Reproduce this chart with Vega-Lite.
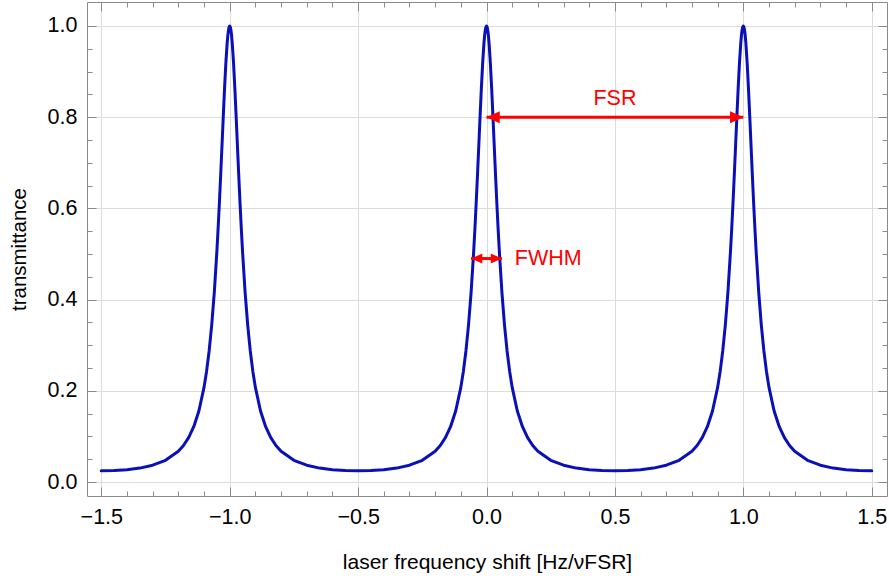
{
  "$schema": "https://vega.github.io/schema/vega-lite/v6.json",
  "width": 800,
  "height": 494,
  "autosize": {"type": "none"},
  "padding": {"left": 87, "top": 2, "right": 2, "bottom": 80},
  "background": "white",
  "config": {
    "view": {"stroke": null},
    "font": "Liberation Sans",
    "axis": {
      "labelFont": "Liberation Sans",
      "titleFont": "Liberation Sans",
      "labelFontSize": 21.5,
      "titleFontSize": 21,
      "titleFontWeight": "normal",
      "labelColor": "black",
      "titleColor": "black",
      "domainColor": "#8a8a8a",
      "tickColor": "#8a8a8a",
      "gridColor": "#dcdcdc",
      "labelOverlap": false,
      "labelFlush": false,
      "labelBound": false
    }
  },
  "datasets": {
    "curve": [
      {"x": -1.5, "y": 0.0244}, {"x": -1.45, "y": 0.025}, {"x": -1.4, "y": 0.0269}, {"x": -1.35, "y": 0.0305}, {"x": -1.3, "y": 0.0368}, {"x": -1.25, "y": 0.0476}, {"x": -1.2, "y": 0.0675}, {"x": -1.18, "y": 0.0801}, {"x": -1.16, "y": 0.0972}, {"x": -1.14, "y": 0.1212}, {"x": -1.12, "y": 0.1557}, {"x": -1.1, "y": 0.2075}, {"x": -1.09, "y": 0.2431}, {"x": -1.08, "y": 0.2879}, {"x": -1.07, "y": 0.3444}, {"x": -1.06, "y": 0.4159}, {"x": -1.05, "y": 0.5053}, {"x": -1.045, "y": 0.5574}, {"x": -1.04, "y": 0.6141}, {"x": -1.035, "y": 0.6749}, {"x": -1.03, "y": 0.7384}, {"x": -1.025, "y": 0.8024}, {"x": -1.02, "y": 0.8638}, {"x": -1.015, "y": 0.9185}, {"x": -1.01, "y": 0.962}, {"x": -1.0075, "y": 0.9783}, {"x": -1.005, "y": 0.9902}, {"x": -1.0025, "y": 0.9975}, {"x": -1, "y": 1},
      {"x": -0.9975, "y": 0.9975}, {"x": -0.995, "y": 0.9902}, {"x": -0.9925, "y": 0.9783}, {"x": -0.99, "y": 0.962}, {"x": -0.985, "y": 0.9185}, {"x": -0.98, "y": 0.8638}, {"x": -0.975, "y": 0.8024}, {"x": -0.97, "y": 0.7384}, {"x": -0.965, "y": 0.6749}, {"x": -0.96, "y": 0.6141}, {"x": -0.955, "y": 0.5574}, {"x": -0.95, "y": 0.5053}, {"x": -0.94, "y": 0.4159}, {"x": -0.93, "y": 0.3444}, {"x": -0.92, "y": 0.2879}, {"x": -0.91, "y": 0.2431}, {"x": -0.9, "y": 0.2075}, {"x": -0.88, "y": 0.1557}, {"x": -0.86, "y": 0.1212}, {"x": -0.84, "y": 0.0972}, {"x": -0.82, "y": 0.0801}, {"x": -0.8, "y": 0.0675}, {"x": -0.75, "y": 0.0476}, {"x": -0.7, "y": 0.0368}, {"x": -0.65, "y": 0.0305}, {"x": -0.6, "y": 0.0269}, {"x": -0.55, "y": 0.025}, {"x": -0.5, "y": 0.0244},
      {"x": -0.45, "y": 0.025}, {"x": -0.4, "y": 0.0269}, {"x": -0.35, "y": 0.0305}, {"x": -0.3, "y": 0.0368}, {"x": -0.25, "y": 0.0476}, {"x": -0.2, "y": 0.0675}, {"x": -0.18, "y": 0.0801}, {"x": -0.16, "y": 0.0972}, {"x": -0.14, "y": 0.1212}, {"x": -0.12, "y": 0.1557}, {"x": -0.1, "y": 0.2075}, {"x": -0.09, "y": 0.2431}, {"x": -0.08, "y": 0.2879}, {"x": -0.07, "y": 0.3444}, {"x": -0.06, "y": 0.4159}, {"x": -0.05, "y": 0.5053}, {"x": -0.045, "y": 0.5574}, {"x": -0.04, "y": 0.6141}, {"x": -0.035, "y": 0.6749}, {"x": -0.03, "y": 0.7384}, {"x": -0.025, "y": 0.8024}, {"x": -0.02, "y": 0.8638}, {"x": -0.015, "y": 0.9185}, {"x": -0.01, "y": 0.962}, {"x": -0.0075, "y": 0.9783}, {"x": -0.005, "y": 0.9902}, {"x": -0.0025, "y": 0.9975}, {"x": 0, "y": 1},
      {"x": 0.0025, "y": 0.9975}, {"x": 0.005, "y": 0.9902}, {"x": 0.0075, "y": 0.9783}, {"x": 0.01, "y": 0.962}, {"x": 0.015, "y": 0.9185}, {"x": 0.02, "y": 0.8638}, {"x": 0.025, "y": 0.8024}, {"x": 0.03, "y": 0.7384}, {"x": 0.035, "y": 0.6749}, {"x": 0.04, "y": 0.6141}, {"x": 0.045, "y": 0.5574}, {"x": 0.05, "y": 0.5053}, {"x": 0.06, "y": 0.4159}, {"x": 0.07, "y": 0.3444}, {"x": 0.08, "y": 0.2879}, {"x": 0.09, "y": 0.2431}, {"x": 0.1, "y": 0.2075}, {"x": 0.12, "y": 0.1557}, {"x": 0.14, "y": 0.1212}, {"x": 0.16, "y": 0.0972}, {"x": 0.18, "y": 0.0801}, {"x": 0.2, "y": 0.0675}, {"x": 0.25, "y": 0.0476}, {"x": 0.3, "y": 0.0368}, {"x": 0.35, "y": 0.0305}, {"x": 0.4, "y": 0.0269}, {"x": 0.45, "y": 0.025}, {"x": 0.5, "y": 0.0244},
      {"x": 0.55, "y": 0.025}, {"x": 0.6, "y": 0.0269}, {"x": 0.65, "y": 0.0305}, {"x": 0.7, "y": 0.0368}, {"x": 0.75, "y": 0.0476}, {"x": 0.8, "y": 0.0675}, {"x": 0.82, "y": 0.0801}, {"x": 0.84, "y": 0.0972}, {"x": 0.86, "y": 0.1212}, {"x": 0.88, "y": 0.1557}, {"x": 0.9, "y": 0.2075}, {"x": 0.91, "y": 0.2431}, {"x": 0.92, "y": 0.2879}, {"x": 0.93, "y": 0.3444}, {"x": 0.94, "y": 0.4159}, {"x": 0.95, "y": 0.5053}, {"x": 0.955, "y": 0.5574}, {"x": 0.96, "y": 0.6141}, {"x": 0.965, "y": 0.6749}, {"x": 0.97, "y": 0.7384}, {"x": 0.975, "y": 0.8024}, {"x": 0.98, "y": 0.8638}, {"x": 0.985, "y": 0.9185}, {"x": 0.99, "y": 0.962}, {"x": 0.9925, "y": 0.9783}, {"x": 0.995, "y": 0.9902}, {"x": 0.9975, "y": 0.9975}, {"x": 1, "y": 1},
      {"x": 1.0025, "y": 0.9975}, {"x": 1.005, "y": 0.9902}, {"x": 1.0075, "y": 0.9783}, {"x": 1.01, "y": 0.962}, {"x": 1.015, "y": 0.9185}, {"x": 1.02, "y": 0.8638}, {"x": 1.025, "y": 0.8024}, {"x": 1.03, "y": 0.7384}, {"x": 1.035, "y": 0.6749}, {"x": 1.04, "y": 0.6141}, {"x": 1.045, "y": 0.5574}, {"x": 1.05, "y": 0.5053}, {"x": 1.06, "y": 0.4159}, {"x": 1.07, "y": 0.3444}, {"x": 1.08, "y": 0.2879}, {"x": 1.09, "y": 0.2431}, {"x": 1.1, "y": 0.2075}, {"x": 1.12, "y": 0.1557}, {"x": 1.14, "y": 0.1212}, {"x": 1.16, "y": 0.0972}, {"x": 1.18, "y": 0.0801}, {"x": 1.2, "y": 0.0675}, {"x": 1.25, "y": 0.0476}, {"x": 1.3, "y": 0.0368}, {"x": 1.35, "y": 0.0305}, {"x": 1.4, "y": 0.0269}, {"x": 1.45, "y": 0.025}, {"x": 1.5, "y": 0.0244}
    ],
    "spans": [
      {"name": "FSR", "x0": 0, "x1": 1, "y": 0.8},
      {"name": "FWHM", "x0": -0.06, "x1": 0.06, "y": 0.49}
    ],
    "heads": [
      {"name": "FSR", "x": 0, "y": 0.8, "dir": "left"},
      {"name": "FSR", "x": 1, "y": 0.8, "dir": "right"},
      {"name": "FWHM", "x": -0.06, "y": 0.49, "dir": "left"},
      {"name": "FWHM", "x": 0.06, "y": 0.49, "dir": "right"}
    ],
    "labelsC": [{"x": 0.5, "y": 0.827, "t": "FSR"}],
    "labelsL": [{"x": 0.11, "y": 0.476, "t": "FWHM"}]
  },
  "resolve": {"axis": {"x": "independent", "y": "independent"}},
  "layer": [
    {
      "data": {"name": "curve"},
      "mark": {"type": "line", "color": "#0a10b8", "strokeWidth": 3, "strokeJoin": "round", "strokeCap": "round", "clip": true},
      "encoding": {
        "x": {
          "field": "x", "type": "quantitative",
          "scale": {"domain": [-1.5557, 1.5595], "nice": false, "zero": false},
          "axis": {
            "orient": "bottom",
            "title": "laser frequency shift [Hz/νFSR]",
            "titlePadding": 20,
            "values": [-1.5, -1.4, -1.3, -1.2, -1.1, -1.0, -0.9, -0.8, -0.7, -0.6, -0.5, -0.4, -0.3, -0.2, -0.1, 0, 0.1, 0.2, 0.3, 0.4, 0.5, 0.6, 0.7, 0.8, 0.9, 1.0, 1.1, 1.2, 1.3, 1.4, 1.5],
            "format": ".1f",
            "labelExpr": "abs(datum.value*2 - round(datum.value*2)) < 0.000001 ? datum.label : ''",
            "tickSize": {"condition": {"test": "abs(datum.value*2 - round(datum.value*2)) < 0.000001", "value": -9}, "value": -5},
            "labelPadding": 19,
            "grid": true,
            "gridOpacity": {"condition": {"test": "abs(datum.value*2 - round(datum.value*2)) < 0.000001", "value": 1}, "value": 0}
          }
        },
        "y": {
          "field": "y", "type": "quantitative",
          "scale": {"domain": [-0.0307, 1.0526], "nice": false, "zero": false},
          "axis": {
            "orient": "left",
            "title": "transmittance",
            "titleFontSize": 20.5,
            "titlePadding": 18,
            "values": [0, 0.05, 0.1, 0.15, 0.2, 0.25, 0.3, 0.35, 0.4, 0.45, 0.5, 0.55, 0.6, 0.65, 0.7, 0.75, 0.8, 0.85, 0.9, 0.95, 1.0],
            "format": ".1f",
            "labelExpr": "abs(datum.value*5 - round(datum.value*5)) < 0.000001 ? datum.label : ''",
            "tickSize": {"condition": {"test": "abs(datum.value*5 - round(datum.value*5)) < 0.000001", "value": -9}, "value": -5},
            "labelPadding": 19,
            "grid": true,
            "gridOpacity": {"condition": {"test": "abs(datum.value*5 - round(datum.value*5)) < 0.000001", "value": 1}, "value": 0}
          }
        }
      }
    },
    {
      "data": {"name": "spans"},
      "mark": {"type": "rule", "color": "#ff0000", "strokeWidth": 3},
      "encoding": {
        "x": {
          "field": "x0", "type": "quantitative",
          "axis": {
            "orient": "top", "title": null, "labels": false, "grid": false,
            "values": [-1.5, -1.4, -1.3, -1.2, -1.1, -1.0, -0.9, -0.8, -0.7, -0.6, -0.5, -0.4, -0.3, -0.2, -0.1, 0, 0.1, 0.2, 0.3, 0.4, 0.5, 0.6, 0.7, 0.8, 0.9, 1.0, 1.1, 1.2, 1.3, 1.4, 1.5],
            "tickSize": {"condition": {"test": "abs(datum.value*2 - round(datum.value*2)) < 0.000001", "value": -9}, "value": -5}
          }
        },
        "x2": {"field": "x1"},
        "y": {
          "field": "y", "type": "quantitative",
          "axis": {
            "orient": "right", "title": null, "labels": false, "grid": false,
            "values": [0, 0.05, 0.1, 0.15, 0.2, 0.25, 0.3, 0.35, 0.4, 0.45, 0.5, 0.55, 0.6, 0.65, 0.7, 0.75, 0.8, 0.85, 0.9, 0.95, 1.0],
            "tickSize": {"condition": {"test": "abs(datum.value*5 - round(datum.value*5)) < 0.000001", "value": -9}, "value": -5}
          }
        }
      }
    },
    {
      "data": {"name": "heads"},
      "mark": {"type": "point", "filled": true, "color": "#ff0000", "opacity": 1, "strokeWidth": 0},
      "encoding": {
        "x": {"field": "x", "type": "quantitative", "axis": null},
        "y": {"field": "y", "type": "quantitative", "axis": null},
        "shape": {
          "field": "dir", "type": "nominal", "legend": null,
          "scale": {"domain": ["left", "right"], "range": ["M0,0L1,-0.45L1,0.45Z", "M0,0L-1,-0.45L-1,0.45Z"]}
        },
        "size": {
          "field": "name", "type": "nominal", "legend": null,
          "scale": {"domain": ["FSR", "FWHM"], "range": [700, 500]}
        }
      }
    },
    {
      "data": {"name": "labelsC"},
      "mark": {"type": "text", "color": "#ff0000", "fontSize": 21.5, "font": "Liberation Sans", "align": "center", "baseline": "alphabetic"},
      "encoding": {
        "x": {"field": "x", "type": "quantitative", "axis": null},
        "y": {"field": "y", "type": "quantitative", "axis": null},
        "text": {"field": "t"}
      }
    },
    {
      "data": {"name": "labelsL"},
      "mark": {"type": "text", "color": "#ff0000", "fontSize": 21.5, "font": "Liberation Sans", "align": "left", "baseline": "alphabetic"},
      "encoding": {
        "x": {"field": "x", "type": "quantitative", "axis": null},
        "y": {"field": "y", "type": "quantitative", "axis": null},
        "text": {"field": "t"}
      }
    }
  ]
}
